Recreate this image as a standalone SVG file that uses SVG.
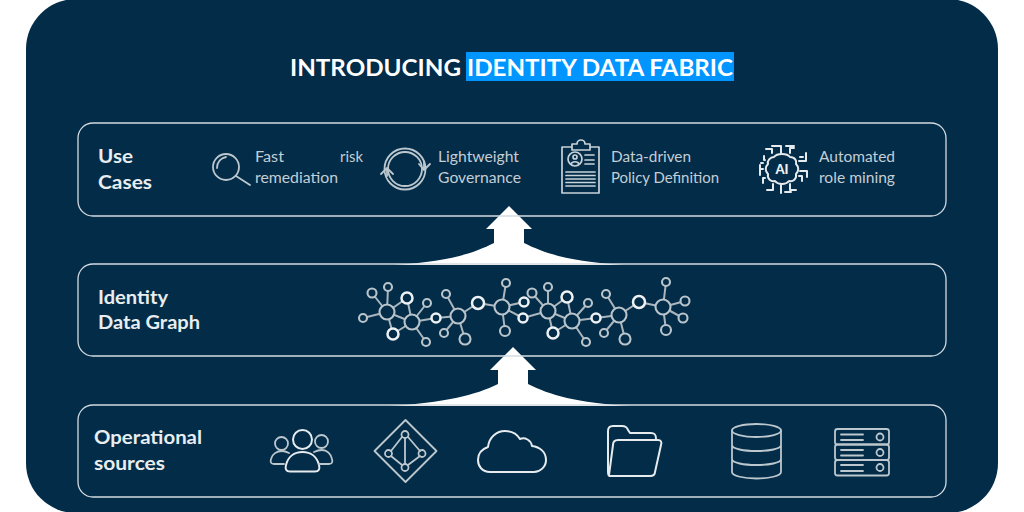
<svg xmlns="http://www.w3.org/2000/svg" width="1024" height="512" viewBox="0 0 1024 512">
<defs>
<style>
text{font-family:"Lato","Open Sans","Liberation Sans",sans-serif}
.box{fill:none;stroke:#d3dbe0;stroke-width:1.3}
.h{font-size:19px;font-weight:700;fill:#e8edf0}
.t{font-size:15.5px;font-weight:400;fill:#c4ced5}
.ic{fill:none;stroke:#bcc7ce;stroke-width:1.8;stroke-linecap:round;stroke-linejoin:round}
.br{fill:none;stroke:#e6ebee;stroke-width:2;stroke-linecap:round;stroke-linejoin:round}
.e{stroke:#aab6be;stroke-width:2;fill:none}
.n{fill:#022c48;stroke:#b9c4cb;stroke-width:2.1}
.b{fill:#022c48;stroke:#eef2f4;stroke-width:2.5}
.d{fill:none;stroke:#c9d2d8;stroke-width:1.7;stroke-linecap:round;stroke-linejoin:round}
</style>
</defs>
<rect width="1024" height="512" fill="#ffffff"/>
<rect x="26" y="-1" width="972" height="514" rx="50" fill="#022c48"/>
<g id="title">
<rect x="466" y="52" width="268" height="29" fill="#0095ff"/>
<text x="290" y="76" font-size="23.5" font-weight="700" fill="#ffffff" textLength="171" lengthAdjust="spacingAndGlyphs">INTRODUCING</text>
<text x="467" y="76" font-size="23.5" font-weight="700" fill="#ffffff" textLength="266" lengthAdjust="spacingAndGlyphs">IDENTITY DATA FABRIC</text>
</g>
<g id="connectors">
<path d="M509 206L532 229H524V243C546 254 572 262 625 265H393C446 262 472 254 494 243V229H486Z" fill="#fff"/>
<path d="M513 347L536 370H528V384C550 395 576 403 631 406H389C444 403 476 395 498 384V370H490Z" fill="#fff"/>
</g>
<g id="use-cases">
<rect class="box" x="78" y="123" width="868" height="93" rx="15"/>
<text class="h" x="98" y="163" textLength="35" lengthAdjust="spacingAndGlyphs">Use</text>
<text class="h" x="98" y="189" textLength="54" lengthAdjust="spacingAndGlyphs">Cases</text>
</g>
<g id="fast-risk-remediation">
<circle class="ic" cx="226" cy="167" r="13"/>
<path class="ic" d="M217 168C217 162 221 158 226 157M236 176L250 185"/>
<text class="t" x="255" y="162" textLength="29" lengthAdjust="spacingAndGlyphs">Fast</text>
<text class="t" x="340" y="162" textLength="23" lengthAdjust="spacingAndGlyphs">risk</text>
<text class="t" x="255" y="183" textLength="83" lengthAdjust="spacingAndGlyphs">remediation</text>
</g>
<g id="lightweight-governance">
<circle class="ic" cx="405" cy="169" r="20.500"/>
<circle class="ic" cx="405" cy="169" r="17"/>
<path class="ic" stroke-width="2.200" d="M419 164L424 170L430 164M424 170V162M381 174L387 168L393 174M387 168V176"/>
<text class="t" x="438" y="162" textLength="81" lengthAdjust="spacingAndGlyphs">Lightweight</text>
<text class="t" x="438" y="183" textLength="83" lengthAdjust="spacingAndGlyphs">Governance</text>
</g>
<g id="data-driven-policy">
<path class="d" d="M572 147H562V193H599V147H590M572 144H577A4 4 0 0 1 585 144H590V150H572Z"/>
<circle class="d" cx="575" cy="159" r="7"/>
<circle class="d" cx="575" cy="157" r="2"/>
<path class="d" d="M571 164C572 161 578 161 579 164M585 155H594M585 160H594M585 164H594M566 172H595M566 175.500H595M566 179H595M566 182.500H595M566 186H595"/>
<text class="t" x="611" y="162" textLength="80" lengthAdjust="spacingAndGlyphs">Data-driven</text>
<text class="t" x="611" y="183" textLength="108" lengthAdjust="spacingAndGlyphs">Policy Definition</text>
</g>
<g id="automated-role-mining">
<path class="br" d="M774 157C777 153 787 153 790 157C795 157 797 161 796 164C799 167 799 171 796 174C797 179 793 182 789 181C786 185 778 185 775 181C771 182 767 179 768 174C765 171 765 167 768 164C767 161 770 157 774 157Z"/>
<text x="782" y="174" font-size="13" font-weight="900" fill="#eef2f4" text-anchor="middle">AI</text>
<path class="br" d="M772 153V149H766M781 153V146M781 146H776M790 153V148H794M772 146H776M786 146H794M781 185V193M773 184V190H767M790 184V190H796M785 192H791M765 160H764V156M799 161H806V153M800 157H803M765 178H763V183M799 176H802V181M763 169H760M760 165V175M800 171H807V177M763 163H761"/>
<text class="t" x="819" y="162" textLength="76" lengthAdjust="spacingAndGlyphs">Automated</text>
<text class="t" x="819" y="183" textLength="76" lengthAdjust="spacingAndGlyphs">role mining</text>
</g>
<g id="identity-data-graph">
<rect class="box" x="78" y="264" width="868" height="92" rx="15"/>
<text class="h" x="98" y="304" textLength="70" lengthAdjust="spacingAndGlyphs">Identity</text>
<text class="h" x="98" y="329" textLength="102" lengthAdjust="spacingAndGlyphs">Data Graph</text>
<path class="e" d="M387 312L372 293M387 312L388 287M387 312L363 318M387 312L407 298M387 312L393 334M387 312L412 322M412 322L407 298M412 322L393 334M412 322L427 303M412 322L426 342M412 322L436 318M436 318L458 316M458 316L446 294M458 316L444 333M458 316L465 339M458 316L478 303M478 303L502 307M502 307L506 283M502 307L505 331M502 307L524 302M502 307L523 318M523 318L548 311M548 311L532 293M548 311L548 287M548 311L567 297M548 311L553 333M548 311L572 321M572 321L567 297M572 321L553 333M572 321L588 303M572 321L586 342M572 321L596 318M596 318L619 315M619 315L606 294M619 315L604 333M619 315L625 339M619 315L639 302M639 302L663 307M663 307L666 282M663 307L666 330M663 307L685 301M663 307L683 318"/>
<circle class="n" cx="387" cy="312" r="7.500"/><circle class="n" cx="412" cy="322" r="7.500"/><circle class="n" cx="458" cy="316" r="7.500"/><circle class="n" cx="502" cy="307" r="7.500"/><circle class="n" cx="548" cy="311" r="7.500"/><circle class="n" cx="572" cy="321" r="7.500"/><circle class="n" cx="619" cy="315" r="7.500"/><circle class="n" cx="663" cy="307" r="7.500"/>
<circle class="n" cx="372" cy="293" r="4.500"/><circle class="n" cx="388" cy="287" r="4"/><circle class="n" cx="363" cy="318" r="4"/><circle class="n" cx="427" cy="303" r="4"/><circle class="n" cx="426" cy="342" r="4"/><circle class="n" cx="446" cy="294" r="4"/><circle class="n" cx="444" cy="333" r="4"/><circle class="n" cx="465" cy="339" r="5.500"/><circle class="n" cx="506" cy="283" r="4"/><circle class="n" cx="505" cy="331" r="5"/><circle class="n" cx="532" cy="293" r="4.500"/><circle class="n" cx="548" cy="287" r="4"/><circle class="n" cx="588" cy="303" r="4"/><circle class="n" cx="586" cy="342" r="4"/><circle class="n" cx="606" cy="294" r="4"/><circle class="n" cx="604" cy="333" r="4"/><circle class="n" cx="625" cy="339" r="5.500"/><circle class="n" cx="666" cy="282" r="4"/><circle class="n" cx="666" cy="330" r="5"/><circle class="n" cx="685" cy="301" r="4.500"/><circle class="n" cx="683" cy="318" r="4.500"/>
<circle class="b" cx="407" cy="298" r="5.500"/><circle class="b" cx="393" cy="334" r="5.500"/><circle class="b" cx="436" cy="318" r="4.500"/><circle class="b" cx="478" cy="303" r="6"/><circle class="b" cx="524" cy="302" r="4.500"/><circle class="b" cx="523" cy="318" r="4.500"/><circle class="b" cx="567" cy="297" r="5.500"/><circle class="b" cx="553" cy="333" r="5.500"/><circle class="b" cx="596" cy="318" r="4.500"/><circle class="b" cx="639" cy="302" r="6"/>
</g>
<g id="operational-sources">
<rect class="box" x="78" y="405" width="868" height="92" rx="15"/>
<text class="h" x="94" y="444" textLength="108" lengthAdjust="spacingAndGlyphs">Operational</text>
<text class="h" x="94" y="470" textLength="71" lengthAdjust="spacingAndGlyphs">sources</text>
</g>
<g id="users">
<circle class="br" cx="302.500" cy="439.500" r="9.500"/>
<circle class="ic" cx="281.500" cy="443.500" r="6.500"/>
<circle class="ic" cx="321.500" cy="441.500" r="6.500"/>
<path class="br" d="M290 471.500C286 471.500 285 469 286 465C288 457 294 452 302.500 452C311 452 317 457 319 465C320 469 319 471.500 315 471.500Z"/>
<path class="ic" d="M284 464H274C271 464 270 462 271 459C272 454 277 451 282 451C285 451 287 452 289 453M314 452C316 451 319 450 322 450C327 450 331 454 332 459C333 462 332 464 329 464H319"/>
</g>
<g id="directory">
<path class="ic" d="M405.500 420L436.500 451L405.500 482L374.500 451Z"/>
<path class="ic" d="M405 438V464M402 437L391 451M408 437L420 451M391 456L402 465M420 456L408 465"/>
<circle class="ic" cx="405" cy="434.500" r="3.500"/><circle class="ic" cx="388.500" cy="453.500" r="3.500"/><circle class="ic" cx="422" cy="453.500" r="3.500"/><circle class="ic" cx="405" cy="467.500" r="3.500"/>
</g>
<g id="cloud">
<path class="br" d="M490 472C482 472 478 466 478 460C478 453 482 449 488 447C489 437 497 431 505 431C512 431 517 434 520 439C525 437 531 440 532 446C540 447 546 452 546 460C546 467 540 472 534 472Z"/>
</g>
<g id="folder">
<path class="br" d="M610 476C608 476 608 474 608 472V431C608 428 610 426 613 426H622C625 426 627 427 628 430L630 433H651C655 433 656 435 656 439"/>
<path class="br" d="M609 475L613 445C613 442 615 440 618 440H658C661 440 662 442 661 445L655 472C655 475 653 476 650 476H610"/>
</g>
<g id="database">
<ellipse class="ic" cx="756.500" cy="430.500" rx="24.500" ry="6.500"/>
<path class="ic" d="M732 430.500V472C732 476 744 478.500 756.500 478.500C769 478.500 781 476 781 472V430.500M732 445C732 449 744 451 756.500 451C769 451 781 449 781 445M732 459C732 463 744 465 756.500 465C769 465 781 463 781 459"/>
</g>
<g id="server">
<rect class="ic" x="835" y="429" width="54" height="15.500" rx="2.500"/>
<rect class="ic" x="835" y="444.500" width="54" height="15.500" rx="2.500"/>
<rect class="ic" x="835" y="460" width="54" height="15.500" rx="2.500"/>
<circle class="ic" cx="880" cy="437" r="3.500"/><circle class="ic" cx="880" cy="452.500" r="3.500"/><circle class="ic" cx="880" cy="467.500" r="3.500"/>
<path class="ic" d="M841 434.500H863M841 440H863M841 450H863M841 455.500H863M841 465H863M841 471H863"/>
</g>
</svg>
